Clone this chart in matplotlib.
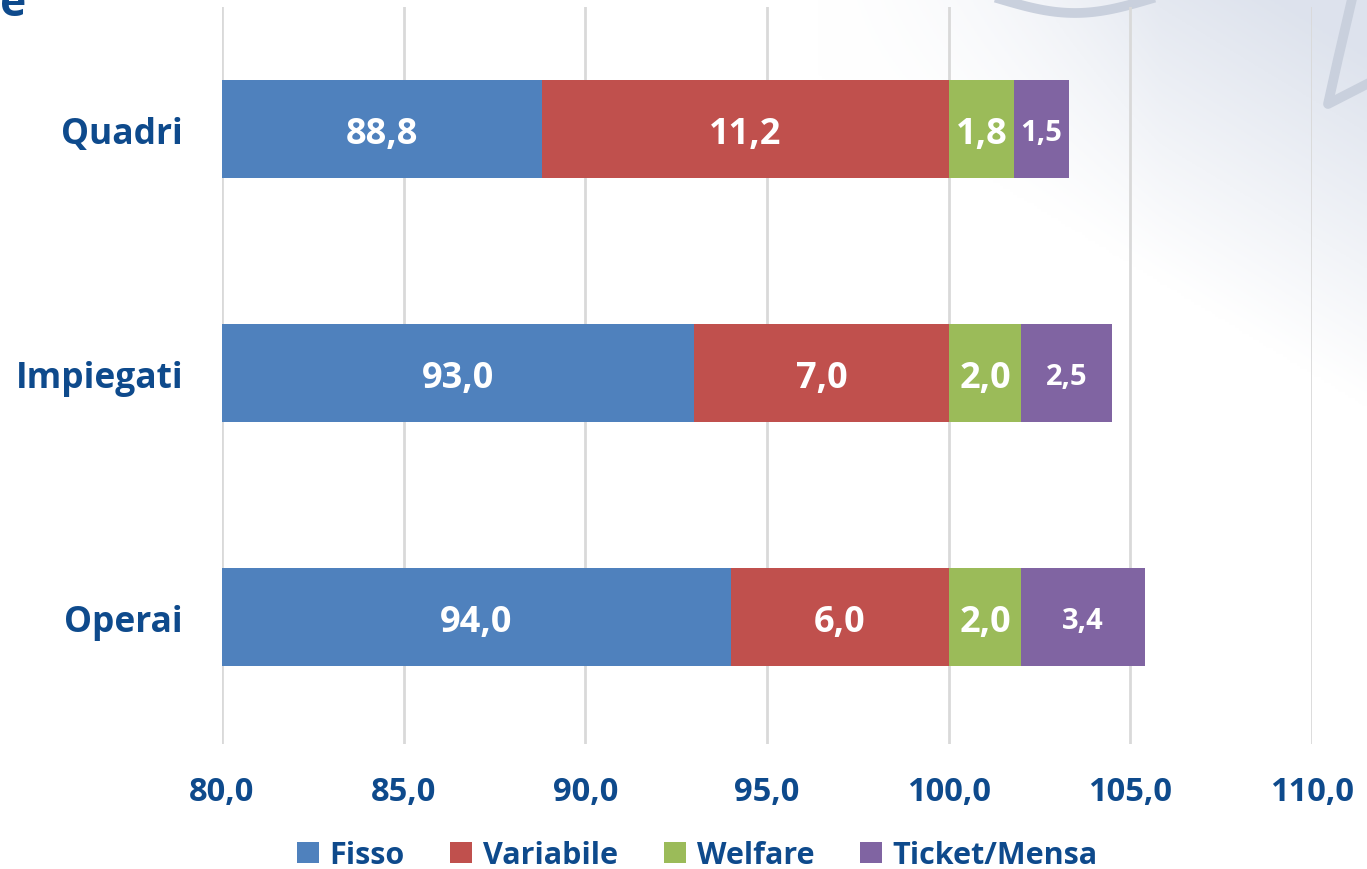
import numpy as np
import matplotlib.pyplot as plt

plt.rcParams['font.family'] = ['Open Sans', 'DejaVu Sans']

categorie = ['Operai', 'Impiegati', 'Quadri']
fisso = [94.0, 93.0, 88.8]
variabile = [6.0, 7.0, 11.2]
welfare = [2.0, 2.0, 1.8]
ticket = [3.4, 2.5, 1.5]
serie = ['Fisso', 'Variabile', 'Welfare', 'Ticket/Mensa']
colori = ['#4F81BD', '#C0504D', '#9BBB59', '#8064A2']
blu = '#0E4A8C'

fig = plt.figure(figsize=(13.67, 8.7), dpi=100)

# sfondo con leggera sfumatura in alto a destra
bg = fig.add_axes([0, 0, 1, 1], zorder=-10)
gx, gy = np.meshgrid(np.linspace(0, 1, 400), np.linspace(0, 1, 300))
linea = 0.9 - 0.95 * (gx - 0.7)
d = np.clip((gy - linea + 0.08) / 0.4, 0, 1) * np.clip((gx - 0.6) / 0.25, 0, 1)
base = np.array([0.87, 0.89, 0.93])
img = np.ones((300, 400, 3)) * (1 - d[..., None]) + base * d[..., None]
bg.imshow(img, origin='lower', extent=[0, 1, 0, 1], aspect='auto')
# tracce del logo in filigrana
sx = np.linspace(1000, 1150, 50)
bg.plot(sx / 1367, 1 - (14 * np.sin((sx - 1000) / 150 * np.pi)) / 870, color='#C9D0DD', lw=7)
bg.plot(np.array([1352, 1338, 1328, 1367]) / 1367, 1 - np.array([0, 60, 105, 85]) / 870,
        color='#C9D0DD', lw=7)
bg.set_xlim(0, 1)
bg.set_ylim(0, 1)
bg.axis('off')

ax = fig.add_axes([222 / 1367, 125 / 870, 1090 / 1367, 737 / 870])
ax.patch.set_alpha(0)

y = np.arange(len(categorie))
h = 0.4
left = np.zeros(len(categorie))
valori = [fisso, variabile, welfare, ticket]
for i, (nome, vals, col) in enumerate(zip(serie, valori, colori)):
    vals = np.array(vals)
    bars = ax.barh(y, vals, height=h, left=left, color=col, label=nome, zorder=3)
    for j, b in enumerate(bars):
        start = max(left[j], 80)
        cx = (start + left[j] + vals[j]) / 2
        size = 21 if i == 3 else 26
        ax.text(cx, y[j], f'{vals[j]:.1f}'.replace('.', ','), ha='center',
                va='center_baseline', color='white', fontsize=size, fontweight='bold',
                zorder=4)
    left = left + vals

ax.set_xlim(80, 110)
ax.set_ylim(-0.52, 2.5)
ax.set_xticks(np.arange(80, 111, 5))
ax.set_xticklabels([f'{v:.1f}'.replace('.', ',') for v in np.arange(80, 111, 5)],
                   fontsize=23.5, fontweight='bold', color=blu)
ax.set_yticks(y)
ax.set_yticklabels(categorie, fontsize=25.5, fontweight='bold', color=blu)
ax.tick_params(axis='both', length=0)
ax.tick_params(axis='x', pad=22)
ax.tick_params(axis='y', pad=28)
ax.grid(axis='x', color='#D9D9D9', linewidth=2, zorder=0)
for s in ax.spines.values():
    s.set_visible(False)

leg = fig.legend(loc='center', bbox_to_anchor=(0.51, 0.016), ncol=4, frameon=False,
                 fontsize=22, handlelength=0.72, handleheight=0.72, handletextpad=0.35,
                 columnspacing=1.5, borderpad=0)
for t in leg.get_texts():
    t.set_color(blu)
    t.set_fontweight('bold')

fig.text(0.0, 0.995, 'e', fontsize=32, fontweight='bold', color=blu, ha='left', va='center')

fig.savefig('out.png', dpi=100)
